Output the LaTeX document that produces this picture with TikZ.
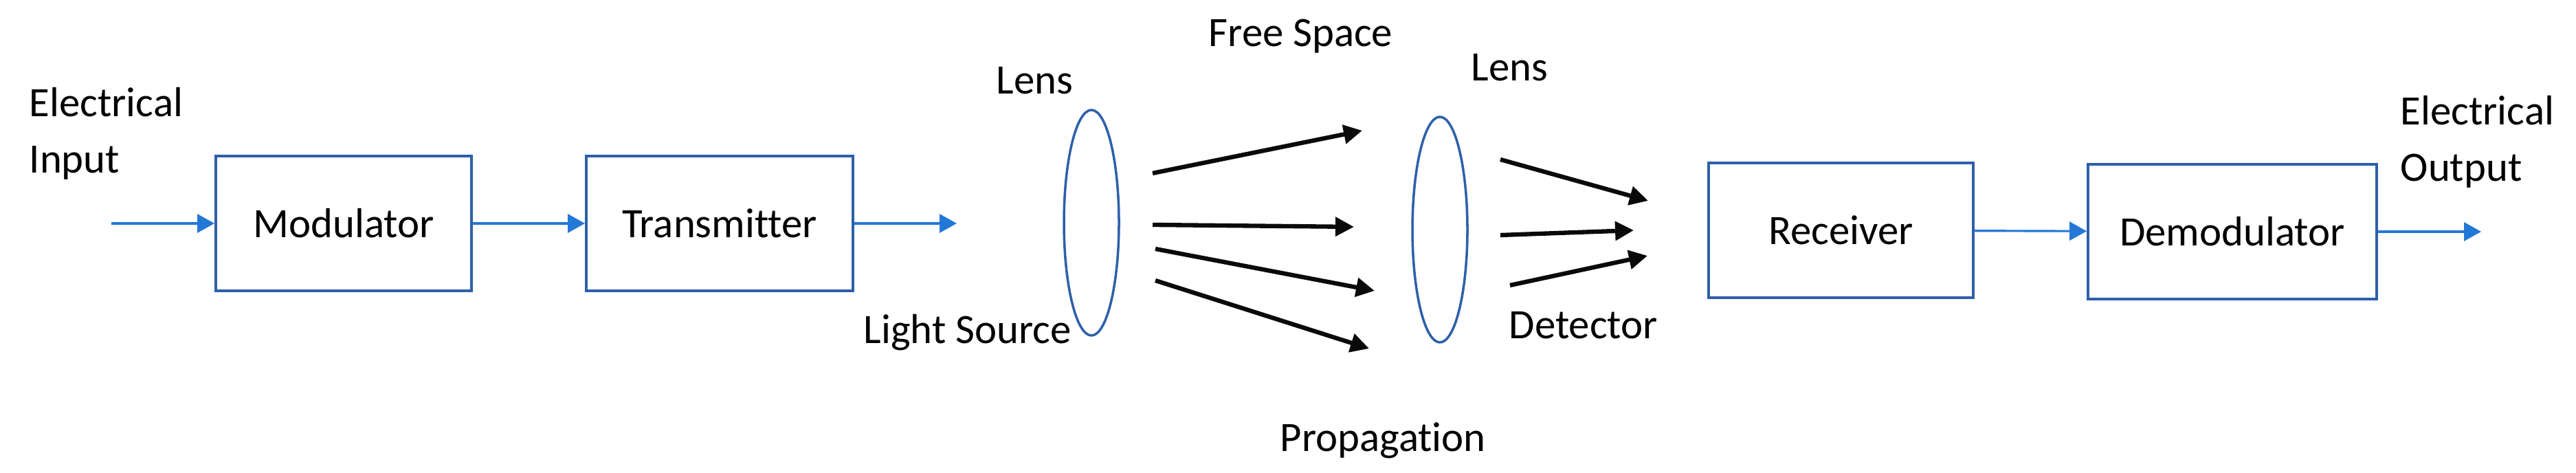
\documentclass[tikz,border=0pt]{standalone}
\usepackage{fontspec}
\setmainfont{Carlito}[Ligatures=NoCommon,Contextuals=NoAlternate]
\usepackage{tikz}
\usetikzlibrary{arrows.meta,shapes.geometric,positioning}
\usepackage{xcolor}
\definecolor{boxblue}  {RGB}{ 46,  96, 170}
\definecolor{wireblue} {RGB}{ 35, 120, 215}
\definecolor{raygray}  {RGB}{ 10,  10,  10}

\begin{document}
\begin{tikzpicture}[
  every node/.style={font=\fontsize{17.3pt}{23.2pt}\selectfont},
  blockbox/.style={draw=boxblue,line width=1.1pt,minimum height=1.96cm,inner sep=0pt},
  lensshape/.style={ellipse,draw=boxblue,line width=1pt,minimum width=0.80cm,
    minimum height=3.28cm,inner sep=0pt},
  wire/.style={-{Triangle[length=0.25cm,width=0.27cm]},wireblue,line width=0.9pt},
  ray/.style={-{Triangle[length=0.27cm,width=0.27cm]},raygray,line width=1.8pt},
  lbl/.style={anchor=base west,inner sep=0pt},
]
\useasboundingbox (0,0) rectangle (37.48,6.88);

%% Transmit side
\node[lbl,anchor=north west,align=left] (inlbl) at (0.42,5.61) {Electrical\\Input};
\coordinate (in) at (1.62,3.63);
\node[blockbox,minimum width=3.72cm] (mod) at (5.00,3.63) {Modulator};
\node[blockbox,minimum width=3.88cm] (tx)  at (10.47,3.63) {Transmitter};
\coordinate (txout) at (13.92,3.63);
\draw[wire] (in) -- (mod);
\draw[wire] (mod) -- (tx);
\draw[wire] (tx) -- (txout);

%% Optics
\node[lensshape] (lensA) at (15.88,3.64) {};
\node[lensshape] (lensB) at (20.95,3.54) {};
\node[lbl] (lensAlbl) at (14.49,5.51) {Lens};
\node[lbl] (lensBlbl) at (21.40,5.70) {Lens};
\node[lbl] (freelbl)  at (17.58,6.20) {Free Space};
\node[lbl] (srclbl)   at (12.56,1.88) {Light Source};
\node[lbl] (detlbl)   at (21.95,1.95) {Detector};
\node[lbl] (proplbl)  at (18.62,0.31) {Propagation};

%% Rays between and after the lenses
\foreach \n/\xa/\ya/\xb/\yb in {1/16.77/4.36/19.82/4.98,
                                2/16.77/3.61/19.70/3.58,
                                3/16.81/3.26/20.00/2.65,
                                4/16.81/2.80/19.92/1.81,
                                5/21.83/4.56/23.98/3.96,
                                6/21.83/3.46/23.77/3.53,
                                7/21.97/2.73/23.97/3.16} {
  \coordinate (rayS\n) at (\xa,\ya);
  \coordinate (rayE\n) at (\xb,\yb);
  \draw[ray] (rayS\n) -- (rayE\n);
}

%% Receive side
\node[blockbox,minimum width=3.85cm] (rx)    at (26.785,3.53) {Receiver};
\node[blockbox,minimum width=4.20cm] (demod) at (32.48,3.51) {Demodulator};
\coordinate (out) at (36.10,3.51);
\draw[wire] (rx) -- (demod);
\draw[wire] (demod) -- (out);
\node[lbl,anchor=north west,align=left] (outlbl) at (34.92,5.49) {Electrical\\Output};

\end{tikzpicture}
\end{document}
